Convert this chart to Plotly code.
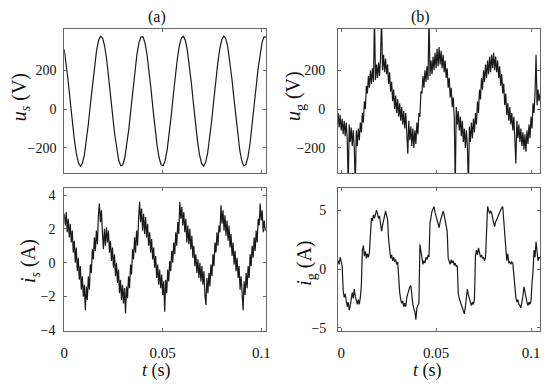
import numpy as np
import plotly.graph_objects as go

# ---------------- data ----------------
# (a) top: u_s in V, equally spaced samples over the panel
us_values = [308, 233, 141, 38, -64, -156, -229, -276, -294, -280,
             -235, -164, -73, 28, 131, 225, 301, 353, 375, 366,
             325, 258, 170, 70, -34, -130, -209, -265, -292, -287,
             -251, -188, -102, -3, 100, 198, 281, 341, 372, 372,
             341, 281, 198, 100, -3, -102, -188, -251, -287, -292,
             -265, -209, -130, -34, 70, 170, 258, 325, 366, 375,
             353, 301, 225, 131, 28, -73, -164, -235, -280, -294,
             -276, -229, -155, -63, 38, 141, 233, 308, 357, 376,
             363, 320, 250, 160, 59, -44, -138, -216, -269, -293,
             -285, -246, -180, -93, 7, 110, 207, 288, 345, 373, 370, 355]

# (b) top: u_g in V
ug_values = [-20, -95, -30, -110, -50, -130, -60, -140, -70, -150,
             -400, -80, -170, -95, -190, -110, -200, -400, -110, -190,
             -100, -160, -70, -120, -20, -70, 40, 0, 120, 80,
             170, 110, 200, 130, 210, 140, 480, 150, 230, 160,
             240, 170, 260, 480, 200, 280, 190, 260, 180, 230,
             130, 190, 90, 140, 40, 100, 0, 70, -20, 50,
             -40, 30, -60, 10, -80, -10, -100, -20, -120, -230,
             -60, -160, -90, -190, -100, -200, -110, -180, -70, -130,
             -20, -40, 90, 80, 170, 110, 200, 140, 220, 150,
             480, 170, 250, 180, 270, 200, 290, 210, 310, 220,
             320, 230, 300, 210, 280, 190, 250, 160, 210, 110,
             160, 60, 110, 10, 60, -40, -400, 10, -80, -10,
             -110, -40, -140, -60, -170, -100, -200, -110, -190, -400,
             -90, -170, -70, -150, -50, -120, -20, -80, 40, -20,
             100, 50, 160, 100, 200, 140, 230, 160, 250, 180,
             270, 190, 280, 210, 290, 200, 270, 190, 250, 160,
             220, 120, 180, 80, 130, 20, 80, -30, 30, -60,
             10, -80, -20, -110, -40, -130, -280, -60, -150, -80,
             -170, -100, -190, -120, -210, -130, -220, -110, -180, -80,
             -150, -40, -100, 30, -20, 80, 280, 20, 100, 40, 80]

# (a) bottom: i_s in A
is_values = [2.9, 2.2, 3.0, 1.8, 2.6, 1.5, 2.3, 1.2, 1.9, 0.6,
             1.3, 0.0, 0.9, -0.5, 0.3, -1.0, -0.2, -1.6, -0.8, -2.0,
             -1.3, -2.8, -1.4, -2.2, -0.8, -1.6, -0.1, -0.6, 0.8, 0.2,
             1.5, 0.7, 1.9, 1.1, 2.8, 3.5, 2.4, 3.1, 1.8, 0.8,
             2.0, 1.0, 2.1, 1.2, 1.9, 0.6, 1.3, 0.1, 0.9, -0.3,
             0.5, -0.8, 0.0, -1.2, -0.4, -1.8, -1.0, -2.2, -1.3, -2.4,
             -1.5, -3.0, -1.4, -2.1, -0.8, -1.5, -0.1, -0.7, 0.8, 0.2,
             1.5, 0.6, 1.9, 1.0, 2.6, 3.6, 2.4, 3.2, 1.9, 2.9,
             1.7, 2.7, 1.5, 2.3, 1.0, 1.8, 0.6, 1.4, 0.2, 0.9,
             -0.3, 0.4, -0.9, -0.1, -1.3, -0.4, -1.5, -0.7, -1.9, -1.1,
             -2.9, -1.0, -1.8, -0.4, -1.1, 0.1, -0.5, 0.7, 0.0, 1.2,
             0.5, 1.8, 1.0, 2.4, 1.7, 3.6, 2.6, 3.3, 2.2, 3.0,
             1.8, 2.6, 1.2, 2.2, 1.1, 2.0, 0.8, 1.6, 0.3, 1.0,
             -0.2, 0.5, -0.6, 0.2, -0.9, 0.0, -1.1, -0.2, -1.3, -0.5,
             -1.9, -2.5, -0.9, -1.8, -0.6, -1.4, -0.1, -0.8, 0.5, -0.2,
             1.2, 0.6, 1.8, 1.0, 2.2, 1.8, 3.4, 2.3, 3.1, 1.9,
             2.8, 1.6, 2.5, 1.3, 2.2, 0.9, 1.7, 0.4, 1.2, -0.1,
             0.7, -0.5, 0.3, -0.9, -0.2, -1.6, -0.8, -2.0, -2.8, -1.1,
             -1.9, -0.6, -1.5, -0.2, -0.9, 0.5, -0.2, 1.0, 0.3, 1.5,
             0.7, 1.9, 1.2, 2.6, 2.2, 3.5, 2.5, 3.1, 1.8, 2.5, 1.9]

# (b) bottom: i_g in A
ig_values = [0.7, 0.4, 1.0, 0.6, 0.3, -1.8, -2.4, -2.1, -2.9, -3.2,
             -2.8, -3.5, -3.1, -2.6, -2.0, -2.5, -1.7, -2.3, -2.8, -3.0,
             -2.6, -3.0, -2.4, -1.4, 1.6, 2.0, 1.1, 1.5, 0.9, 1.3,
             1.0, 1.4, 2.9, 4.3, 4.1, 4.6, 4.3, 4.8, 5.0, 4.7,
             4.3, 4.5, 3.6, 3.2, 3.7, 4.0, 4.5, 4.9, 4.6, 4.2,
             2.5, 1.4, 0.9, 1.2, 0.7, 1.0, 0.6, 0.8, 0.4, 0.6,
             -1.2, -2.0, -2.6, -2.9, -2.7, -3.2, -2.9, -3.2, -2.4, -2.0,
             -1.8, -1.5, -1.4, -2.4, -3.0, -3.4, -3.6, -4.3, -3.3, -3.1,
             -2.9, 2.1, 1.4, 0.9, 0.4, 0.7, 0.5, 1.0, 0.8, 1.2,
             1.0, 3.9, 4.6, 4.9, 5.1, 5.3, 4.8, 4.5, 4.2, 3.7,
             3.5, 4.0, 4.3, 4.5, 4.9, 4.6, 4.0, 3.6, 3.2, 0.9,
             0.6, 0.4, 0.8, 0.5, 0.7, 0.3, 0.5, 0.2, 0.3, -2.1,
             -2.5, -2.8, -3.1, -3.4, -3.5, -3.8, -3.2, -2.4, -1.7, -2.2,
             -2.6, -2.9, -3.1, -2.8, -3.0, -2.6, 1.1, 1.6, 1.2, 1.8,
             1.3, 1.0, 1.2, 0.9, 1.0, 0.7, 1.0, 3.8, 5.3, 5.0,
             4.7, 4.9, 4.8, 4.3, 3.9, 3.6, 4.0, 4.2, 4.4, 4.6,
             4.9, 5.1, 5.2, 5.3, 4.2, 2.7, 1.2, 0.7, 1.3, 0.5,
             0.6, 0.4, 0.6, 0.5, -0.5, -2.0, -2.4, -2.8, -2.6, -3.0,
             -3.1, -3.3, -2.9, -2.3, -1.5, -2.0, -2.5, -2.8, -3.1, -2.8,
             -3.0, -2.7, -1.2, -0.2, 1.6, 1.0, 2.3, 1.2, 0.7, 1.0, 0.9]

# sampling spans (seconds)
us_span = (0.0, 0.1035)
is_span = (0.0, 0.102)
right_span = (-0.0016, 0.1047)

t_us = np.linspace(us_span[0], us_span[1], len(us_values))
t_is = np.linspace(is_span[0], is_span[1], len(is_values))
t_ug = np.linspace(right_span[0], right_span[1], len(ug_values))
t_ig = np.linspace(right_span[0], right_span[1], len(ig_values))

x_ticks = [0, 0.05, 0.1]
x_ticktext = ["0", "0.05", "0.1"]
u_ticks = [-200, 0, 200]
is_ticks = [-4, -2, 0, 2, 4]
ig_ticks = [-5, 0, 5]

# ---------------- figure ----------------
OFF = 8  # default page margin of the html body
W, H = 550 - OFF, 388 - OFF
FONT = "Liberation Serif, Times New Roman, serif"
LINE = dict(color="#1a1a1a", width=1.2)


def px_x(p):
    return (p - OFF) / W


def px_y(p):
    return 1 - (p - OFF) / H


fig = go.Figure()
fig.add_trace(go.Scatter(x=t_us, y=us_values, mode="lines", line=LINE, xaxis="x", yaxis="y"))
fig.add_trace(go.Scatter(x=t_ug, y=ug_values, mode="lines", line=LINE, xaxis="x2", yaxis="y2"))
fig.add_trace(go.Scatter(x=t_is, y=is_values, mode="lines", line=LINE, xaxis="x3", yaxis="y3"))
fig.add_trace(go.Scatter(x=t_ig, y=ig_values, mode="lines", line=LINE, xaxis="x4", yaxis="y4"))

axis_common = dict(showline=True, linecolor="#666666", linewidth=1, mirror="ticks",
                   ticks="inside", ticklen=3, tickcolor="#666666", showgrid=False,
                   zeroline=False, tickfont=dict(family=FONT, size=14, color="#111"))

left_dom = [px_x(61), px_x(266)]
right_dom = [px_x(339), px_x(544)]
top_dom = [px_y(176), px_y(29.5)]
bot_dom = [px_y(337), px_y(191.5)]

left_range = [0, 0.1025]
right_range = [right_span[0], right_span[1]]

layout = dict(
    width=W, height=H, margin=dict(l=0, r=0, t=0, b=0),
    font=dict(family=FONT, color="#111"),
    paper_bgcolor="white", plot_bgcolor="white", showlegend=False,
    xaxis=dict(domain=left_dom, anchor="y", range=left_range, tickvals=x_ticks,
               showticklabels=False, **axis_common),
    yaxis=dict(domain=top_dom, anchor="x", range=[-329, 412], tickvals=u_ticks,
               ticklabelstandoff=4, **axis_common),
    xaxis2=dict(domain=right_dom, anchor="y2", range=right_range, tickvals=x_ticks,
                showticklabels=False, **axis_common),
    yaxis2=dict(domain=top_dom, anchor="x2", range=[-329, 412], tickvals=u_ticks,
                ticklabelstandoff=9, **axis_common),
    xaxis3=dict(domain=left_dom, anchor="y3", range=left_range, tickvals=x_ticks,
                ticktext=x_ticktext, ticklabelstandoff=8, **axis_common),
    yaxis3=dict(domain=bot_dom, anchor="x3", range=[-4.03, 4.41], tickvals=is_ticks,
                ticklabelstandoff=5, **axis_common),
    xaxis4=dict(domain=right_dom, anchor="y4", range=right_range, tickvals=x_ticks,
                ticktext=x_ticktext, ticklabelstandoff=8, **axis_common),
    yaxis4=dict(domain=bot_dom, anchor="x4", range=[-5.25, 6.86], tickvals=ig_ticks,
                ticklabelstandoff=8, **axis_common),
)
fig.update_layout(**layout)
for ax in ["xaxis3", "xaxis4"]:
    fig.layout[ax].tickfont.size = 15

annos = [
    dict(text="(a)", x=155, y=17.5, size=16, angle=0),
    dict(text="(b)", x=423, y=17.5, size=16, angle=0),
    dict(text="<i>u</i><sub><i>s</i></sub> (V)", x=16, y=99, size=20, angle=-90),
    dict(text="<i>u</i><sub>g</sub> (V)", x=295, y=98, size=20, angle=-90),
    dict(text="<i>i</i><sub><i>s</i></sub> (A)", x=26, y=266, size=20, angle=-90),
    dict(text="<i>i</i><sub>g</sub> (A)", x=306, y=268, size=20, angle=-90),
    dict(text="<i>t</i> (s)", x=155, y=377, size=18, angle=0),
    dict(text="<i>t</i> (s)", x=430, y=377, size=18, angle=0),
]
for a in annos:
    fig.add_annotation(text=a["text"], x=px_x(a["x"]), y=px_y(a["y"]), xref="paper", yref="paper",
                       xanchor="center", yanchor="middle", showarrow=False, textangle=a["angle"],
                       font=dict(family=FONT, size=a["size"], color="#111"))

fig.write_html("out.html")
